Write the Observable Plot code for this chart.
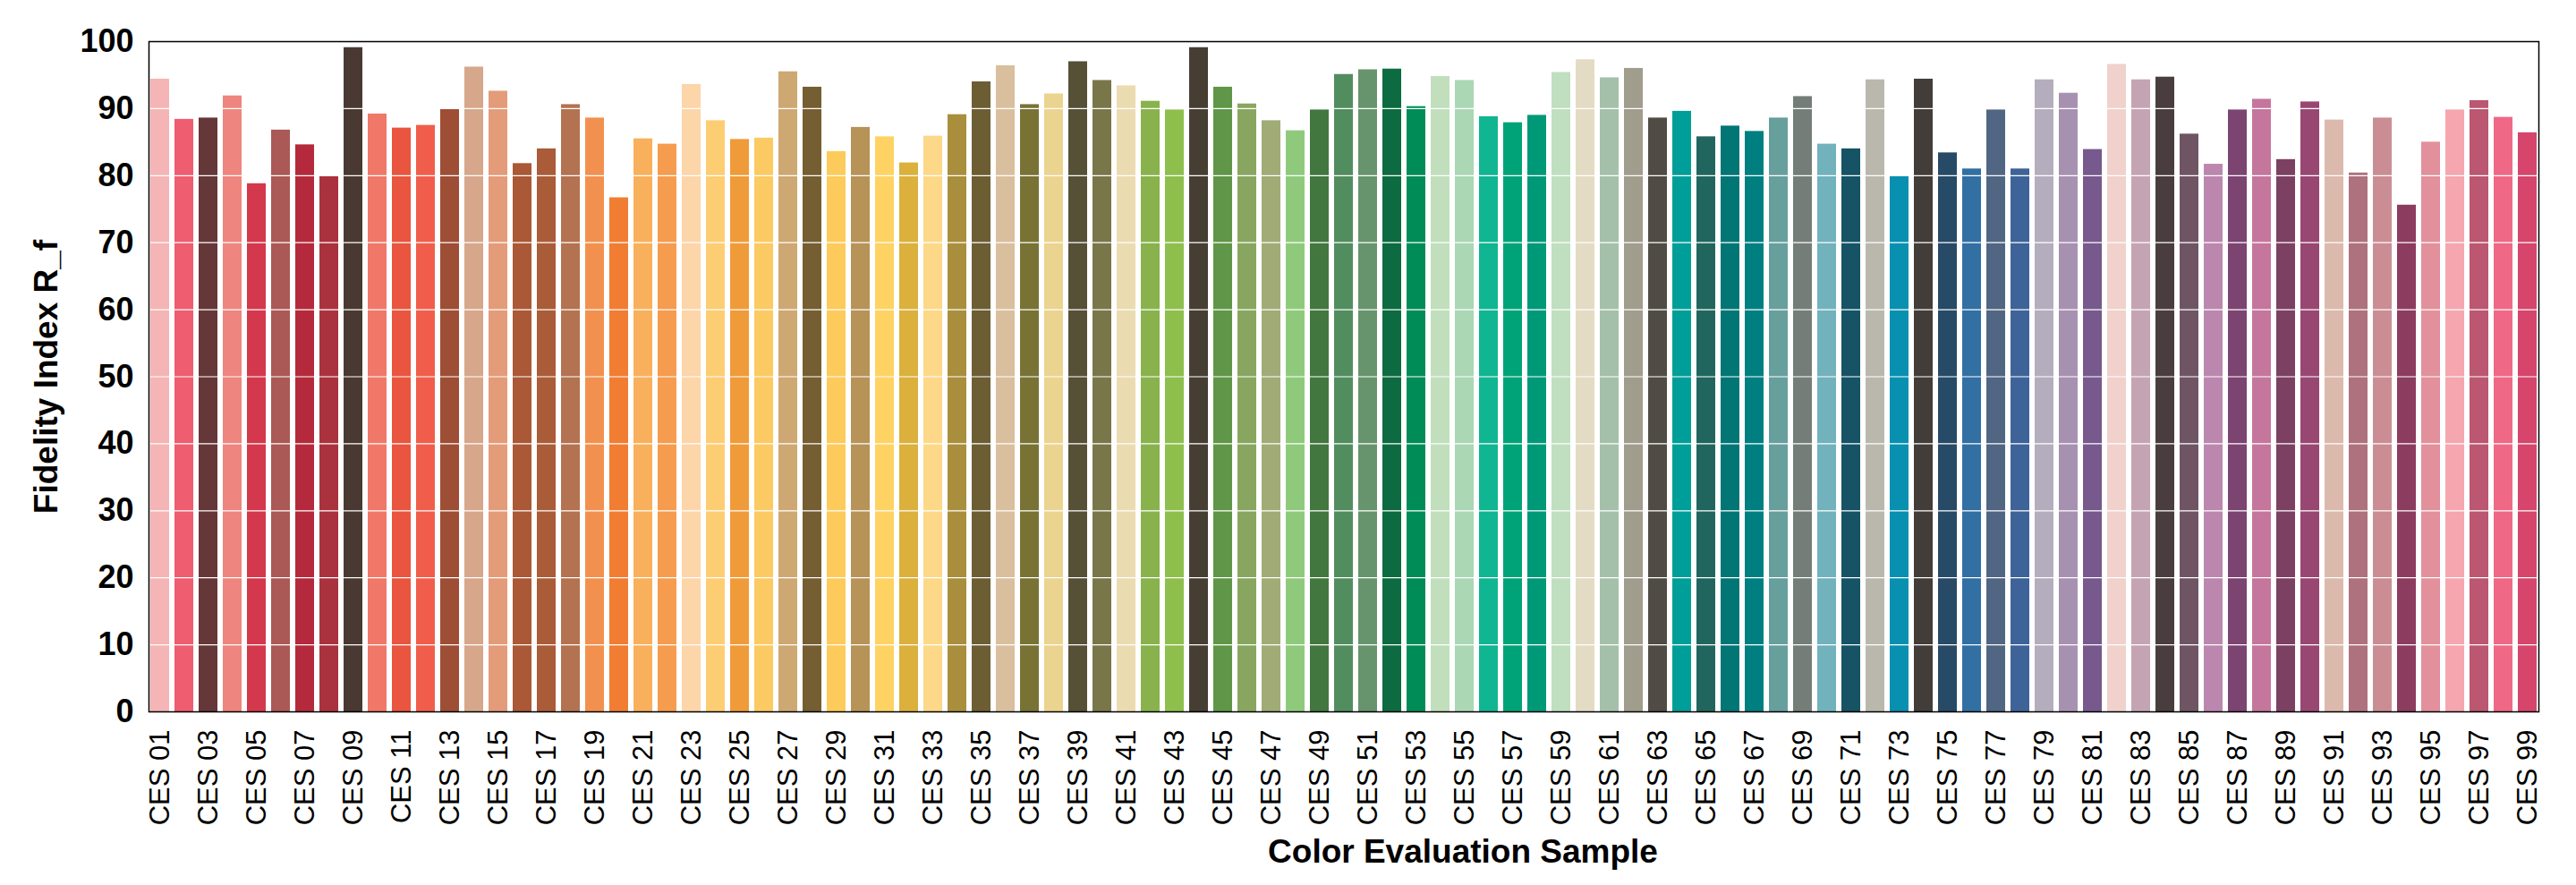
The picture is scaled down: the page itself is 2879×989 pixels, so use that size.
<!DOCTYPE html>
<html>
<head>
<meta charset="utf-8">
<script src="https://cdn.jsdelivr.net/npm/d3@7"></script>
<script src="https://cdn.jsdelivr.net/npm/@observablehq/plot@0.6"></script>
<style>
  html, body { margin: 0; padding: 0; background: #fff; }
  svg { font-family: "Liberation Sans", Arial, sans-serif; }
  svg [aria-label="y-axis tick label"] text { font-weight: bold; }
</style>
</head>
<body>
<div id="chart"></div>
<script>
const labels = Array.from({length: 99}, (_, i) => "CES " + String(i + 1).padStart(2, "0"));

const values = [
  94.4, 88.4, 88.6, 91.9, 78.8, 86.8, 84.6, 79.9, 99.1, 89.2,
  87.1, 87.5, 89.9, 96.2, 92.6, 81.8, 84.0, 90.6, 88.6, 76.7,
  85.5, 84.7, 93.6, 88.2, 85.4, 85.6, 95.5, 93.2, 83.6, 87.2,
  85.8, 81.9, 85.9, 89.1, 94.0, 96.4, 90.6, 92.2, 97.0, 94.2,
  93.4, 91.1, 89.8, 99.1, 93.2, 90.7, 88.2, 86.7, 89.8, 95.1,
  95.8, 95.9, 90.3, 94.8, 94.2, 88.8, 87.9, 89.0, 95.4, 97.3,
  94.6, 96.0, 88.6, 89.6, 85.8, 87.4, 86.6, 88.6, 91.8, 84.7,
  84.0, 94.3, 79.9, 94.4, 83.4, 81.0, 89.8, 81.0, 94.3, 92.3,
  83.9, 96.6, 94.3, 94.7, 86.2, 81.7, 89.8, 91.4, 82.4, 91.0,
  88.3, 80.4, 88.6, 75.6, 85.0, 89.8, 91.2, 88.7, 86.4
];

const colors = [
  "#F5B4B5", "#EE5D70", "#663739", "#EE857E", "#D4384C", "#AA5956", "#B42A3C", "#AA323E", "#4A3932", "#F07868",
  "#E9553E", "#F05E4B", "#9E4E35", "#D6A78B", "#E49B79", "#AA5836", "#AA5C38", "#B37250", "#F2914F", "#F17D33",
  "#F9B05C", "#F59C4E", "#FCD5A8", "#FCCD73", "#F09B39", "#FCCA62", "#CEA872", "#745E32", "#FCCB5B", "#B79358",
  "#FED363", "#DBB03C", "#FDD888", "#A98F3D", "#6C5D33", "#D9BF9E", "#787235", "#EBD48F", "#565037", "#79774A",
  "#EBDBB0", "#89B24D", "#8EBF4D", "#463E33", "#609647", "#89A660", "#A0AB76", "#8FCA7C", "#42773F", "#528D60",
  "#67946C", "#0C6B40", "#008C56", "#C1DFBD", "#ABD7B4", "#10B591", "#00A377", "#009977", "#C0DFC0", "#E4DBC5",
  "#A4C0AA", "#A09D8D", "#504C45", "#009E98", "#21665E", "#017675", "#007F80", "#679F9D", "#757D78", "#71B2BD",
  "#155365", "#BAB8AC", "#0790B0", "#423D39", "#274A66", "#326FA3", "#506683", "#3E6398", "#B4ADBD", "#A791B0",
  "#77598D", "#F0D1CC", "#C4A4B3", "#4A3D3D", "#6F5564", "#BB87AE", "#7C4470", "#C5769D", "#7C4062", "#984772",
  "#DCB9AD", "#AE717E", "#CA8D93", "#8C3C5E", "#E1909C", "#F5A6AE", "#BB5770", "#EF6886", "#D5456C"
];

const yTicks = [0, 10, 20, 30, 40, 50, 60, 70, 80, 90, 100];
const gridTicks = [10, 20, 30, 40, 50, 60, 70, 80, 90];
const xTickLabels = labels.filter((_, i) => i % 2 === 0);

const data = labels.map((label, i) => ({label, value: values[i]}));

const chart = Plot.plot({
  width: 2879,
  height: 989,
  marginLeft: 166,
  marginRight: 42,
  marginTop: 46,
  marginBottom: 194,
  style: {fontFamily: "'Liberation Sans', Arial, sans-serif", background: "#fff"},
  x: {domain: labels, paddingInner: 0.22, paddingOuter: 0.07, label: null},
  y: {domain: [0, 100], label: null},
  color: {domain: labels, range: colors},
  marks: [
    Plot.barY(data, {x: "label", y: "value", fill: "label"}),
    Plot.ruleY(gridTicks, {stroke: "#fff", strokeWidth: 1.2}),
    Plot.frame({stroke: "#000", strokeWidth: 1.5}),
    Plot.axisY({ticks: yTicks, tickSize: 0, tickPadding: 17, fontSize: 36, fontWeight: "bold", label: null}),
    Plot.axisX({ticks: xTickLabels, tickSize: 0, tickPadding: 20, tickRotate: -90, fontSize: 31, label: null}),
    Plot.text(["Fidelity Index R_f"], {frameAnchor: "left", dx: -114, rotate: -90, fontSize: 37, fontWeight: "bold", textAnchor: "middle", lineAnchor: "middle", fill: "#000"}),
    Plot.text(["Color Evaluation Sample"], {frameAnchor: "bottom", dx: 133, dy: 157, fontSize: 37, fontWeight: "bold", textAnchor: "middle", lineAnchor: "middle", fill: "#000"})
  ]
});

document.getElementById("chart").appendChild(chart);
</script>
</body>
</html>
